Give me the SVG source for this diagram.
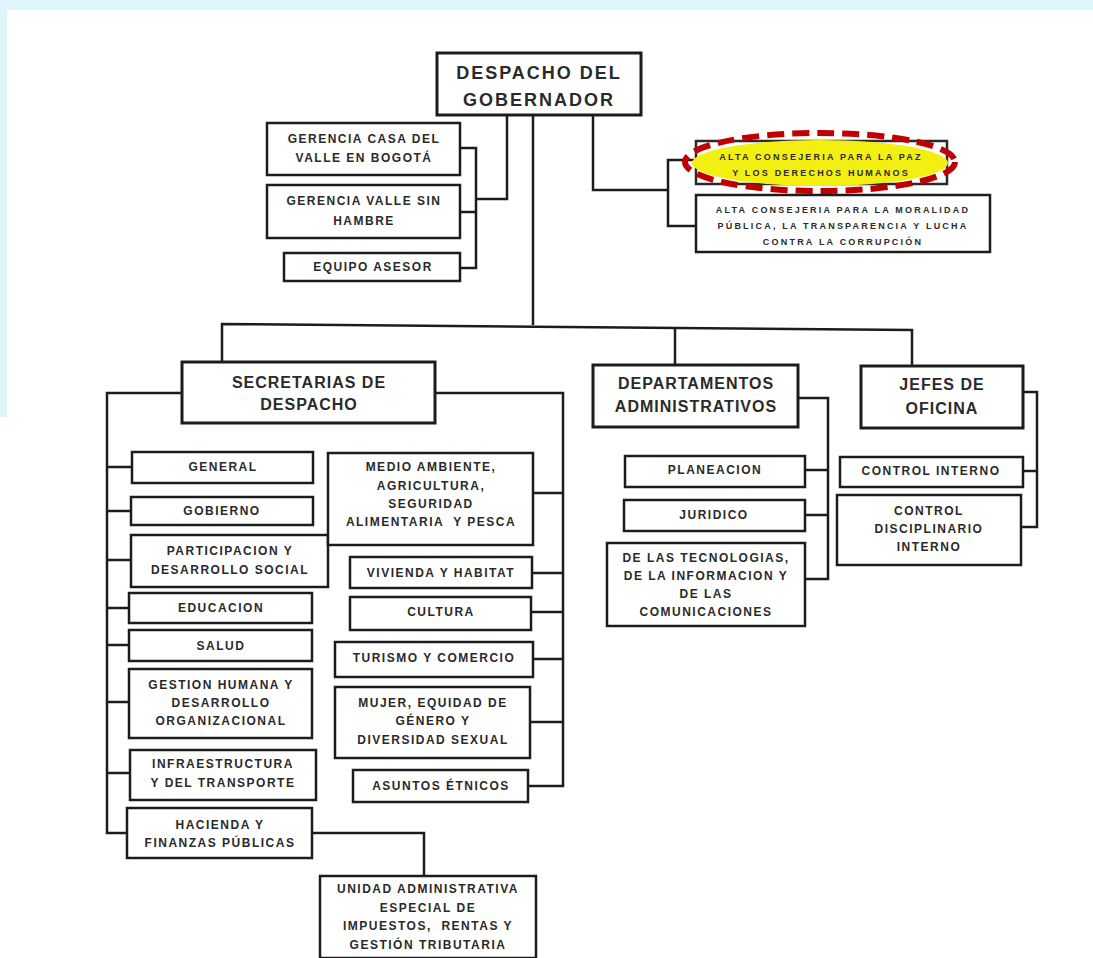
<svg xmlns="http://www.w3.org/2000/svg" width="1093" height="958" viewBox="0 0 1093 958">
<style>
.bx{fill:#fff;stroke:#1c1c1c;stroke-width:2.5}
.cn{fill:none;stroke:#1c1c1c;stroke-width:2.5;stroke-linejoin:miter}
text{font-family:"Liberation Sans",Arial,sans-serif;font-weight:bold;fill:#2a2a2a;text-anchor:middle;dominant-baseline:central}
.t{font-size:12px;letter-spacing:1.5px}
.s{font-size:9px;letter-spacing:2.2px}
.h{font-size:16px;letter-spacing:1px}
.big{font-size:18px;letter-spacing:2px}
.pre{white-space:pre}
</style>
<rect x="0" y="0" width="1093" height="958" fill="#fff"/>
<rect x="0" y="0" width="1093" height="10" fill="#def5fc"/>
<rect x="0" y="0" width="7" height="417" fill="#def5fc"/>

<g id="connectors">
<path class="cn" d="M533 115 V325"/>
<path class="cn" d="M222 362 V324 L912 330 V368"/>
<path class="cn" d="M675 327 V366"/>
<path class="cn" d="M507 115 V199 H476"/>
<path class="cn" d="M460 148 H476 V268 H460"/>
<path class="cn" d="M460 212 H476"/>
<path class="cn" d="M593 115 V190 H668"/>
<path class="cn" d="M696 160 H668 V226 H696"/>
<path class="cn" d="M182 393 H107 V833 H127"/>
<path class="cn" d="M107 467 H132 M107 511 H131 M107 560 H131 M107 608 H129 M107 645 H129 M107 702 H129 M107 773 H130"/>
<path class="cn" d="M435 393 H563 V786 H528"/>
<path class="cn" d="M533 493 H563 M532 573 H563 M531 612 H563 M533 659 H563 M530 722 H563"/>
<path class="cn" d="M312 833 H424 V876"/>
<path class="cn" d="M798 398 H828 V579 H805"/>
<path class="cn" d="M805 470 H828 M805 515 H828"/>
<path class="cn" d="M1023 392 H1037 V527 H1021"/>
<path class="cn" d="M1023 471 H1037"/>
</g>

<g id="despacho">
<rect class="bx" x="437" y="53" width="204" height="62" style="stroke-width:3"/>
<text class="big" x="539" y="73">DESPACHO DEL</text>
<text class="big" x="539" y="100">GOBERNADOR</text>
</g>

<g id="gerencia-casa">
<rect class="bx" x="267" y="123" width="193" height="52"/>
<text class="t" x="364" y="139">GERENCIA CASA DEL</text>
<text class="t" x="364" y="158">VALLE EN BOGOTÁ</text>
</g>
<g id="gerencia-hambre">
<rect class="bx" x="267" y="185" width="193" height="53"/>
<text class="t" x="364" y="201">GERENCIA VALLE SIN</text>
<text class="t" x="364" y="221">HAMBRE</text>
</g>
<g id="equipo-asesor">
<rect class="bx" x="284" y="253" width="176" height="28"/>
<text class="t" x="373" y="267">EQUIPO ASESOR</text>
</g>

<g id="consejeria-paz">
<rect x="696" y="141" width="251" height="43" fill="#fff" stroke="#2a2a2a" stroke-width="2.5"/>
<ellipse cx="820" cy="163" rx="128" ry="23" fill="#f4ef12"/>
<text class="s" x="821" y="157">ALTA CONSEJERIA PARA LA PAZ</text>
<text class="s" x="821" y="173">Y LOS DERECHOS HUMANOS</text>
<ellipse cx="820" cy="162" rx="135" ry="29" fill="none" stroke="#c00000" stroke-width="6" stroke-dasharray="17 8"/>
</g>
<g id="consejeria-moralidad">
<rect class="bx" x="696" y="195" width="294" height="57"/>
<text class="s" x="843" y="210">ALTA CONSEJERIA PARA LA MORALIDAD</text>
<text class="s" x="843" y="226">PÚBLICA, LA TRANSPARENCIA Y LUCHA</text>
<text class="s" x="843" y="242">CONTRA LA CORRUPCIÓN</text>
</g>

<g id="secretarias">
<rect class="bx" x="182" y="362" width="253" height="61" style="stroke-width:3"/>
<text class="h" x="309" y="382">SECRETARIAS DE</text>
<text class="h" x="309" y="404">DESPACHO</text>
</g>
<g id="general">
<rect class="bx" x="132" y="452" width="181" height="31"/>
<text class="t" x="223" y="467">GENERAL</text>
</g>
<g id="gobierno">
<rect class="bx" x="131" y="497" width="182" height="28"/>
<text class="t" x="222" y="511">GOBIERNO</text>
</g>
<g id="participacion">
<rect class="bx" x="131" y="535" width="197" height="52"/>
<text class="t" x="230" y="551">PARTICIPACION Y</text>
<text class="t" x="230" y="570">DESARROLLO SOCIAL</text>
</g>
<g id="educacion">
<rect class="bx" x="129" y="593" width="183" height="30"/>
<text class="t" x="221" y="608">EDUCACION</text>
</g>
<g id="salud">
<rect class="bx" x="129" y="630" width="183" height="31"/>
<text class="t" x="221" y="646">SALUD</text>
</g>
<g id="gestion-humana">
<rect class="bx" x="129" y="669" width="183" height="69"/>
<text class="t" x="221" y="685">GESTION HUMANA Y</text>
<text class="t" x="221" y="703">DESARROLLO</text>
<text class="t" x="221" y="721">ORGANIZACIONAL</text>
</g>
<g id="infraestructura">
<rect class="bx" x="130" y="750" width="186" height="50"/>
<text class="t" x="223" y="764">INFRAESTRUCTURA</text>
<text class="t" x="223" y="783">Y DEL TRANSPORTE</text>
</g>
<g id="hacienda">
<rect class="bx" x="127" y="808" width="185" height="50"/>
<text class="t" x="220" y="825">HACIENDA Y</text>
<text class="t" x="220" y="843">FINANZAS PÚBLICAS</text>
</g>
<g id="unidad">
<rect class="bx" x="320" y="876" width="216" height="82"/>
<text class="t" x="428" y="889">UNIDAD ADMINISTRATIVA</text>
<text class="t" x="428" y="908">ESPECIAL DE</text>
<text class="t pre" x="428" y="926">IMPUESTOS,  RENTAS Y</text>
<text class="t" x="428" y="945">GESTIÓN TRIBUTARIA</text>
</g>
<g id="medio-ambiente">
<rect class="bx" x="328" y="453" width="205" height="92"/>
<text class="t" x="431" y="467">MEDIO AMBIENTE,</text>
<text class="t" x="431" y="486">AGRICULTURA,</text>
<text class="t" x="431" y="504">SEGURIDAD</text>
<text class="t pre" x="431" y="522">ALIMENTARIA  Y PESCA</text>
</g>
<g id="vivienda">
<rect class="bx" x="350" y="557" width="182" height="31"/>
<text class="t" x="441" y="573">VIVIENDA Y HABITAT</text>
</g>
<g id="cultura">
<rect class="bx" x="350" y="597" width="181" height="33"/>
<text class="t" x="441" y="612">CULTURA</text>
</g>
<g id="turismo">
<rect class="bx" x="335" y="642" width="198" height="35"/>
<text class="t" x="434" y="658">TURISMO Y COMERCIO</text>
</g>
<g id="mujer">
<rect class="bx" x="335" y="687" width="195" height="71"/>
<text class="t" x="433" y="703">MUJER, EQUIDAD DE</text>
<text class="t" x="433" y="721">GÉNERO Y</text>
<text class="t" x="433" y="740">DIVERSIDAD SEXUAL</text>
</g>
<g id="asuntos-etnicos">
<rect class="bx" x="353" y="770" width="175" height="32"/>
<text class="t" x="441" y="786">ASUNTOS ÉTNICOS</text>
</g>

<g id="departamentos">
<rect class="bx" x="593" y="365" width="205" height="62" style="stroke-width:3"/>
<text class="h" x="696" y="383">DEPARTAMENTOS</text>
<text class="h" x="696" y="406">ADMINISTRATIVOS</text>
</g>
<g id="planeacion">
<rect class="bx" x="625" y="456" width="180" height="31"/>
<text class="t" x="715" y="470">PLANEACION</text>
</g>
<g id="juridico">
<rect class="bx" x="624" y="500" width="181" height="31"/>
<text class="t" x="714" y="515">JURIDICO</text>
</g>
<g id="tecnologias">
<rect class="bx" x="607" y="543" width="198" height="83"/>
<text class="t" x="706" y="558">DE LAS TECNOLOGIAS,</text>
<text class="t" x="706" y="576">DE LA INFORMACION Y</text>
<text class="t" x="706" y="594">DE LAS</text>
<text class="t" x="706" y="612">COMUNICACIONES</text>
</g>

<g id="jefes">
<rect class="bx" x="861" y="366" width="162" height="62" style="stroke-width:3"/>
<text class="h" x="942" y="384">JEFES DE</text>
<text class="h" x="942" y="408">OFICINA</text>
</g>
<g id="control-interno">
<rect class="bx" x="840" y="457" width="183" height="30"/>
<text class="t" x="931" y="471">CONTROL INTERNO</text>
</g>
<g id="control-disciplinario">
<rect class="bx" x="837" y="495" width="184" height="70"/>
<text class="t" x="929" y="511">CONTROL</text>
<text class="t" x="929" y="529">DISCIPLINARIO</text>
<text class="t" x="929" y="547">INTERNO</text>
</g>
</svg>
